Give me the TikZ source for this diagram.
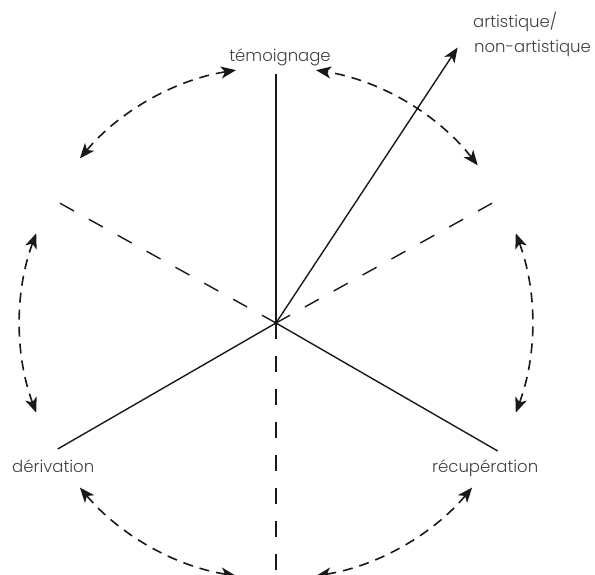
\documentclass[tikz,border=0pt]{standalone}
\usepackage{fontspec}
\setmainfont{Poppins Light}
\usetikzlibrary{arrows.meta,calc}
\definecolor{txt}{RGB}{65,65,65}
\begin{document}
\begin{tikzpicture}[x=1pt,y=1pt,
  tip/.tip={Stealth[length=15pt,width=12pt,inset=4pt]},
  axis/.style={line width=1.4pt,black!90},
  dashaxis/.style={line width=1.4pt,black!90,dash pattern=on 16pt off 17pt},
  cycle/.style={line width=1.6pt,black!90,dash pattern=on 10pt off 7pt,tip-tip},
  lbl/.style={text=txt,font=\fontsize{16.5}{25}\selectfont,inner sep=0pt}]
\useasboundingbox (0,0) rectangle (595,575);
\coordinate (C) at (276,252);
% solid axes
\draw[axis] (C) -- ++(90:249) coordinate (T);
\draw[axis] (C) -- ++(210:252) coordinate (L);
\draw[axis] (C) -- ++(330:256) coordinate (R);
% dashed axes
\draw[dashaxis] (C) -- ++(151:247) coordinate (DL);
\draw[dashaxis] (C) -- ++(29:247) coordinate (DR);
\draw[dashaxis] (C) -- ++(270:247) coordinate (DB);
% arrow
\draw[axis,-tip] (C) -- ++(56.6:330) coordinate (A);
% cycle arcs
\foreach \a/\b [count=\i] in {38/81,99/140,159.5/200.5,220/261,279/320,339.5/380.5}{
  \draw[cycle] ($(C)+(\a:256)$) arc[start angle=\a,end angle=\b,radius=256];
}
% labels
\node[lbl,anchor=base] (tem) at (280,513) {témoignage};
\node[lbl,anchor=base west] (der) at (12,102) {dérivation};
\node[lbl,anchor=base west] (rec) at (432,102) {récupération};
\node[lbl,anchor=base west] (art1) at (473,547) {artistique/};
\node[lbl,anchor=base west] (art2) at (474,522) {non-artistique};
\end{tikzpicture}
\end{document}
